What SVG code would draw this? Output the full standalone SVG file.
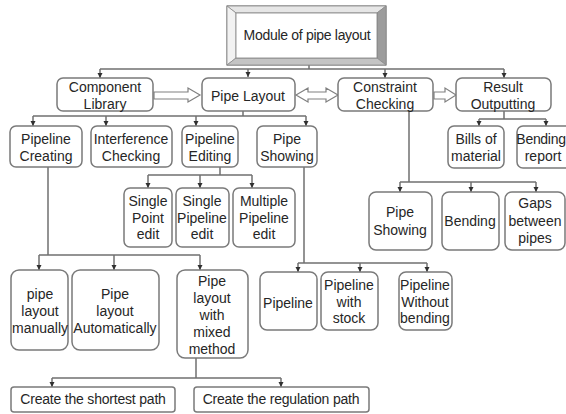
<svg xmlns="http://www.w3.org/2000/svg" width="566" height="414" viewBox="0 0 566 414">
<style>
.box{fill:#fff;stroke:#7a7a7a;stroke-width:1.5}
.t{font-family:"Liberation Sans",Arial,sans-serif;font-size:14px;fill:#262626;text-anchor:middle}
.c{fill:none;stroke:#707070;stroke-width:1.5}
.d{marker-end:url(#ah)}
.blk{fill:#fff;stroke:#808080;stroke-width:1.2}
</style>
<defs>
<marker id="ah" markerUnits="userSpaceOnUse" markerWidth="6" markerHeight="6" refX="5" refY="3" orient="auto">
<path d="M0,0.5 L5,3 L0,5.5 Z" fill="#303030"/>
</marker>
</defs>
<rect x="0" y="0" width="566" height="414" fill="#fff"/>

<g id="connectors">
<path class="c" d="M309,65 V69 M100,69 H504"/>
<path class="c d" d="M100,69 V78"/>
<path class="c d" d="M248,69 V77"/>
<path class="c d" d="M385,69 V78"/>
<path class="c d" d="M504,69 V78"/>

<path class="c" d="M243,111 V116 M33,116 H306"/>
<path class="c d" d="M33,116 V126"/>
<path class="c d" d="M106,116 V126"/>
<path class="c d" d="M196,116 V126"/>
<path class="c d" d="M306,116 V126"/>

<path class="c" d="M504,111 V119 M479,119 H546"/>
<path class="c d" d="M479,119 V126"/>
<path class="c d" d="M546,119 V126"/>

<path class="c" d="M409,111 V182 M400,182 H536"/>
<path class="c d" d="M400,182 V192"/>
<path class="c d" d="M471,182 V192"/>
<path class="c d" d="M536,182 V192"/>

<path class="c" d="M220,167 V175 M148,175 H252"/>
<path class="c d" d="M148,175 V188"/>
<path class="c d" d="M200,175 V188"/>
<path class="c d" d="M252,175 V188"/>

<path class="c" d="M48,167 V255 M39,255 H200"/>
<path class="c d" d="M39,255 V270"/>
<path class="c d" d="M114,255 V270"/>
<path class="c d" d="M200,255 V270"/>

<path class="c" d="M304,167 V263 M298,263 H427"/>
<path class="c d" d="M298,263 V272"/>
<path class="c d" d="M360,263 V272"/>
<path class="c d" d="M427,263 V272"/>

<path class="c" d="M196,358 V378 M52,378 H281"/>
<path class="c d" d="M52,378 V387"/>
<path class="c d" d="M281,378 V387"/>

<path class="blk" d="M154,92 H188 V88 L200,95 L188,102 V99 H154 Z"/>
<path class="blk" d="M296,95 L308,88 V92 H326 V88 L338,95 L326,102 V99 H308 V102 Z"/>
<path class="blk" d="M434,92 H445 V88 L456,95 L445,102 V99 H434 Z"/>
</g>

<g id="module">
<rect x="227" y="6" width="159" height="59" fill="#fff" stroke="#808080" stroke-width="1.2"/>
<polygon points="227,6 386,6 377,13 236,13" fill="#e6e6e6" stroke="#8a8a8a" stroke-width="0.8"/>
<polygon points="227,6 236,13 236,58 227,65" fill="#f2f2f2" stroke="#8a8a8a" stroke-width="0.8"/>
<polygon points="386,6 386,65 377,58 377,13" fill="#9c9c9c" stroke="#8a8a8a" stroke-width="0.8"/>
<polygon points="227,65 386,65 377,58 236,58" fill="#c4c4c4" stroke="#8a8a8a" stroke-width="0.8"/>
<rect x="236" y="13" width="141" height="45" fill="#fff" stroke="#808080" stroke-width="0.8"/>
<text class="t" x="307" y="40" letter-spacing="-0.3">Module of pipe layout</text>
</g>

<g id="component-library"><rect class="box" x="57" y="78" width="96" height="33" rx="6"/><text class="t" x="105" y="92">Component</text><text class="t" x="105" y="109">Library</text></g>
<g id="pipe-layout"><rect class="box" x="202" y="78" width="93" height="33" rx="6"/><text class="t" x="248" y="101">Pipe Layout</text></g>
<g id="constraint-checking"><rect class="box" x="338" y="78" width="95" height="33" rx="6"/><text class="t" x="385" y="92">Constraint</text><text class="t" x="385" y="109">Checking</text></g>
<g id="result-outputting"><rect class="box" x="456" y="78" width="95" height="33" rx="6"/><text class="t" x="503" y="92">Result</text><text class="t" x="503" y="109">Outputting</text></g>

<g id="pipeline-creating"><rect class="box" x="10" y="126" width="72" height="41" rx="6"/><text class="t" x="46" y="144">Pipeline</text><text class="t" x="46" y="161">Creating</text></g>
<g id="interference-checking"><rect class="box" x="91" y="126" width="81" height="41" rx="6"/><text class="t" x="131" y="144">Interference</text><text class="t" x="131" y="161">Checking</text></g>
<g id="pipeline-editing"><rect class="box" x="182" y="126" width="56" height="41" rx="6"/><text class="t" x="210" y="144">Pipeline</text><text class="t" x="210" y="161">Editing</text></g>
<g id="pipe-showing"><rect class="box" x="257" y="126" width="60" height="41" rx="6"/><text class="t" x="287" y="144">Pipe</text><text class="t" x="287" y="161">Showing</text></g>
<g id="bills-of-material"><rect class="box" x="448" y="126" width="56" height="42" rx="6"/><text class="t" x="476" y="144">Bills of</text><text class="t" x="476" y="161">material</text></g>
<g id="bending-report"><rect class="box" x="517" y="126" width="60" height="42" rx="6"/><text class="t" x="541" y="144" font-size="13" letter-spacing="-0.3">Bending</text><text class="t" x="543" y="161" font-size="13">report</text></g>

<g id="single-point-edit"><rect class="box" x="124" y="188" width="48" height="59" rx="6"/><text class="t" x="148" y="206">Single</text><text class="t" x="148" y="223">Point</text><text class="t" x="148" y="239">edit</text></g>
<g id="single-pipeline-edit"><rect class="box" x="176" y="188" width="53" height="59" rx="6"/><text class="t" x="202" y="206">Single</text><text class="t" x="202" y="223">Pipeline</text><text class="t" x="202" y="239">edit</text></g>
<g id="multiple-pipeline-edit"><rect class="box" x="233" y="188" width="62" height="59" rx="6"/><text class="t" x="264" y="206">Multiple</text><text class="t" x="264" y="223">Pipeline</text><text class="t" x="264" y="239">edit</text></g>

<g id="pipe-showing-2"><rect class="box" x="369" y="192" width="63" height="58" rx="7"/><text class="t" x="400" y="217">Pipe</text><text class="t" x="400" y="235">Showing</text></g>
<g id="bending"><rect class="box" x="442" y="192" width="57" height="58" rx="7"/><text class="t" x="470" y="226">Bending</text></g>
<g id="gaps-between-pipes"><rect class="box" x="505" y="192" width="60" height="58" rx="7"/><text class="t" x="535" y="208">Gaps</text><text class="t" x="535" y="226">between</text><text class="t" x="535" y="243">pipes</text></g>

<g id="pipeline"><rect class="box" x="260" y="272" width="57" height="58" rx="7"/><text class="t" x="288" y="308">Pipeline</text></g>
<g id="pipeline-with-stock"><rect class="box" x="321" y="272" width="57" height="58" rx="7"/><text class="t" x="349" y="290">Pipeline</text><text class="t" x="349" y="307">with</text><text class="t" x="349" y="323">stock</text></g>
<g id="pipeline-without-bending"><rect class="box" x="399" y="272" width="53" height="58" rx="7"/><text class="t" x="425" y="290">Pipeline</text><text class="t" x="425" y="307">Without</text><text class="t" x="425" y="323">bending</text></g>

<g id="pipe-layout-manually"><rect class="box" x="11" y="270" width="57" height="80" rx="8"/><text class="t" x="40" y="299">pipe</text><text class="t" x="40" y="316">layout</text><text class="t" x="40" y="333">manually</text></g>
<g id="pipe-layout-automatically"><rect class="box" x="72" y="270" width="87" height="80" rx="8"/><text class="t" x="115" y="299">Pipe</text><text class="t" x="115" y="316">layout</text><text class="t" x="115" y="333">Automatically</text></g>
<g id="pipe-layout-mixed"><rect class="box" x="177" y="270" width="71" height="88" rx="8"/><text class="t" x="212" y="286">Pipe</text><text class="t" x="212" y="303">layout</text><text class="t" x="212" y="320">with</text><text class="t" x="212" y="337">mixed</text><text class="t" x="212" y="354">method</text></g>

<g id="shortest-path"><rect class="box" x="11" y="387" width="164" height="25" rx="3"/><text class="t" x="93" y="404" letter-spacing="-0.2">Create the shortest path</text></g>
<g id="regulation-path"><rect class="box" x="194" y="387" width="175" height="25" rx="3"/><text class="t" x="281" y="404" letter-spacing="-0.2">Create the regulation path</text></g>
</svg>
